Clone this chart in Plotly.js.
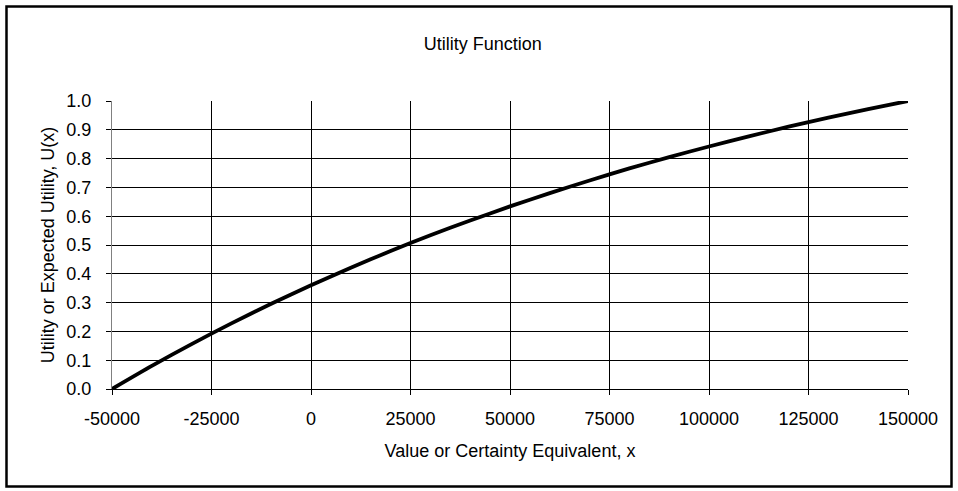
<!DOCTYPE html>
<html>
<head>
<meta charset="utf-8">
<script src="https://cdn.plot.ly/plotly-3.0.1.min.js"></script>
<style>html,body{margin:0;padding:0;background:#fff;}#chart{width:958px;height:491px;}</style>
</head>
<body>
<div id="chart"></div>
<script>
// Data
const chartTitle = "Utility Function";
const xTitle = "Value or Certainty Equivalent, x";
const yTitle = "Utility or Expected Utility, U(x)";
const xValues = [-50000, -40000, -30000, -20000, -10000, 0, 10000, 20000, 30000, 40000, 50000,
                 60000, 70000, 80000, 90000, 100000, 110000, 120000, 130000, 140000, 150000];
const uValues = [0.000, 0.080, 0.156, 0.228, 0.296, 0.360, 0.421, 0.479, 0.534, 0.585, 0.634,
                 0.680, 0.724, 0.766, 0.805, 0.842, 0.877, 0.911, 0.942, 0.972, 1.000];
const xTickVals = [-50000, -25000, 0, 25000, 50000, 75000, 100000, 125000, 150000];
const xTickText = ["-50000", "-25000", "0", "25000", "50000", "75000", "100000", "125000", "150000"];
const yTickVals = [0, 0.1, 0.2, 0.3, 0.4, 0.5, 0.6, 0.7, 0.8, 0.9, 1.0];
const yTickText = ["0.0", "0.1", "0.2", "0.3", "0.4", "0.5", "0.6", "0.7", "0.8", "0.9", "1.0"];

const FONT = "Liberation Sans, Arial, sans-serif";
const FS = 18;

const trace = {
  x: xValues, y: uValues, type: "scatter", mode: "lines",
  line: {color: "#000", width: 3.8, shape: "spline", smoothing: 0.6},
  hoverinfo: "skip", showlegend: false
};

const layout = {
  width: 958, height: 491,
  margin: {l: 112, r: 50, t: 101, b: 102, pad: 0},
  paper_bgcolor: "#fff", plot_bgcolor: "#fff",
  font: {family: FONT, size: FS, color: "#000"},
  title: {text: chartTitle, font: {family: FONT, size: FS, color: "#000"},
          xref: "container", yref: "container", x: 0.504, xanchor: "center", y: 0.91, yanchor: "middle"},
  xaxis: {
    range: [-50000, 150000], tickvals: xTickVals, ticktext: xTickText,
    showgrid: true, gridcolor: "#000", gridwidth: 1, zeroline: false,
    showline: true, linecolor: "#000", linewidth: 1,
    ticks: "outside", ticklen: 5, tickcolor: "#000", tickwidth: 1,
    ticklabelstandoff: 8,
    tickfont: {family: FONT, size: FS, color: "#000"},
    title: {text: xTitle, font: {family: FONT, size: FS, color: "#000"}, standoff: 16},
    automargin: false, fixedrange: true
  },
  yaxis: {
    range: [0, 1], tickvals: yTickVals, ticktext: yTickText,
    showgrid: true, gridcolor: "#000", gridwidth: 1, zeroline: false,
    showline: true, linecolor: "#808080", linewidth: 1,
    ticks: "outside", ticklen: 5, tickcolor: "#000", tickwidth: 1,
    ticklabelstandoff: 11,
    tickfont: {family: FONT, size: FS, color: "#000"},
    title: {text: yTitle, font: {family: FONT, size: FS, color: "#000"}, standoff: 7},
    automargin: false, fixedrange: true
  },
  shapes: [{
    type: "rect", xref: "paper", yref: "paper",
    x0: -0.13254, x1: 1.05465, y0: -0.33854, y1: 1.32813,
    line: {color: "#000", width: 2.5}, fillcolor: "rgba(0,0,0,0)", layer: "above"
  }]
};

Plotly.newPlot("chart", [trace], layout, {displayModeBar: false, staticPlot: true});
</script>
</body>
</html>
